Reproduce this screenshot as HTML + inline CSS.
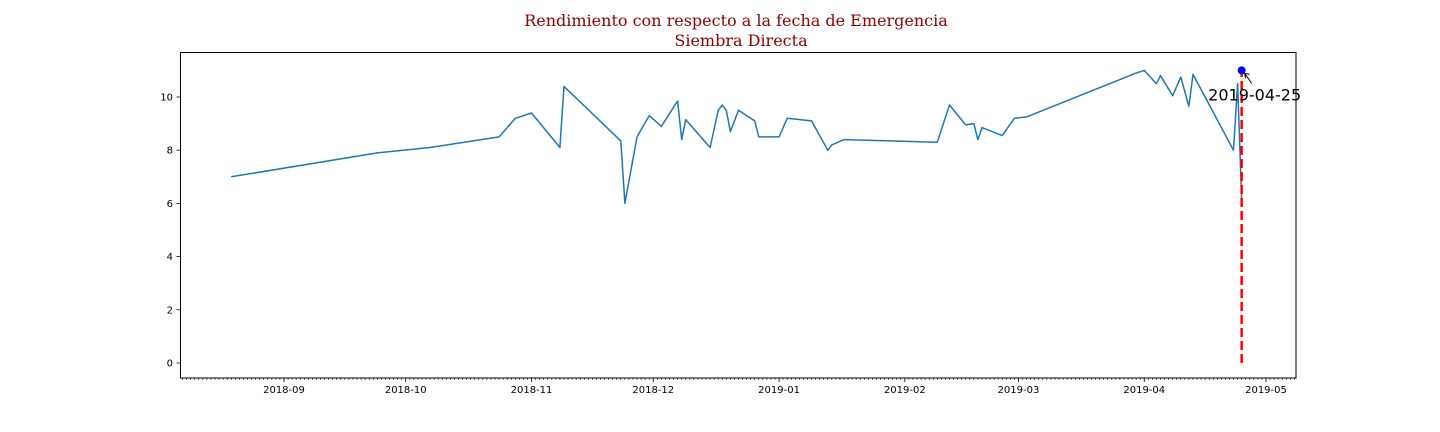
<!DOCTYPE html>
<html><head><meta charset="utf-8"><style>
html,body{margin:0;padding:0;background:#fff;width:1440px;height:432px;overflow:hidden}
svg text{font-family:"DejaVu Sans","Liberation Sans",sans-serif}
</style></head><body>
<svg id="chart" width="1440" height="432" xmlns="http://www.w3.org/2000/svg">
<text x="736" y="26" text-anchor="middle" font-size="16" fill="#8b0000" style="font-family:'DejaVu Serif','Liberation Serif',serif">Rendimiento con respecto a la fecha de Emergencia</text>
<text x="741" y="46" text-anchor="middle" font-size="16" fill="#8b0000" style="font-family:'DejaVu Serif','Liberation Serif',serif">Siembra Directa</text>
<g id="axes"></g>
<g id="marks"></g>
<rect x="180.5" y="52.5" width="1115.5" height="325.5" fill="none" stroke="#000" stroke-width="1"/>
</svg>
<script>
const dates=["2018-08-19","2018-09-24","2018-10-07","2018-10-24","2018-10-28","2018-11-01","2018-11-08","2018-11-09","2018-11-23","2018-11-24","2018-11-27","2018-11-30","2018-12-03","2018-12-07","2018-12-08","2018-12-09","2018-12-15","2018-12-17","2018-12-18","2018-12-19","2018-12-20","2018-12-22","2018-12-26","2018-12-27","2019-01-01","2019-01-03","2019-01-09","2019-01-13","2019-01-14","2019-01-17","2019-02-09","2019-02-12","2019-02-16","2019-02-18","2019-02-19","2019-02-20","2019-02-25","2019-02-28","2019-03-03","2019-03-30","2019-04-01","2019-04-04","2019-04-05","2019-04-08","2019-04-10","2019-04-12","2019-04-13","2019-04-23","2019-04-24","2019-04-25"];
const yields=[7.0,7.9,8.1,8.5,9.2,9.4,8.1,10.4,8.35,6.0,8.5,9.3,8.9,9.85,8.4,9.15,8.1,9.5,9.7,9.5,8.7,9.5,9.1,8.5,8.5,9.2,9.1,8.0,8.2,8.4,8.3,9.7,8.95,9.0,8.4,8.85,8.55,9.2,9.25,10.9,11.0,10.5,10.8,10.05,10.75,9.65,10.85,8.0,10.5,6.1];
const markDate="2019-04-25";
const markValue=11.0;
const yTicks=[0,2,4,6,8,10];
const xTickLabels=["2018-09","2018-10","2018-11","2018-12","2019-01","2019-02","2019-03","2019-04","2019-05"];

const NS="http://www.w3.org/2000/svg";
const day0=Date.UTC(2018,8,1);
function dnum(s){const p=s.split("-").map(Number);return (Date.UTC(p[0],p[1]-1,p[2]||1)-day0)/86400000;}
const X0=284,XPD=(1266-284)/242;
function xs(s){return X0+dnum(s)*XPD;}
function xd(d){return X0+d*XPD;}
function ys(v){return 363-v*26.6;}
const axes=document.getElementById('axes'),marks=document.getElementById('marks');
function mk(tag,attrs,parent){const e=document.createElementNS(NS,tag);for(const k in attrs)e.setAttribute(k,attrs[k]);parent.appendChild(e);return e;}
for(let d=-26;d<=252;d++){const x=xd(d);if(x<181||x>1295)continue;
 const t=mk('line',{x1:x,x2:x,y1:378,y2:380,stroke:'#000','stroke-width':0.6},axes);
 
 }
xTickLabels.forEach(l=>{const x=xs(l);
 const t=mk('line',{x1:x,x2:x,y1:378,y2:382,stroke:'#000','stroke-width':0.8},axes);
 
 
 const tx=mk('text',{x:x,y:393,'text-anchor':'middle','font-size':10},axes);tx.textContent=l;
 
 });
yTicks.forEach(v=>{const y=ys(v);
 const t=mk('line',{x1:176.5,x2:180,y1:y,y2:y,stroke:'#000','stroke-width':0.8},axes);
 
 
 const tx=mk('text',{x:173,y:y+3.5,'text-anchor':'end','font-size':10},axes);tx.textContent=v;
 
 });
const pts=dates.map((d,i)=>xs(d).toFixed(1)+','+ys(yields[i]).toFixed(1)).join(' ');
const line=mk('polyline',{points:pts,fill:'none',stroke:'#1f77b4','stroke-width':1.5,'stroke-linejoin':'round'},marks);


const mx=xs(markDate),my=ys(markValue);
const vl=mk('line',{x1:mx,x2:mx,y1:ys(0),y2:my,stroke:'#ff0000','stroke-width':2.5,'stroke-dasharray':'9,4'},marks);


const dot=mk('circle',{cx:mx,cy:my,r:4,fill:'#0000ff'},marks);


const ar=mk('path',{d:`M${mx+10},${my+13} L${mx+3},${my+3} M${mx+3},${my+3} l1,5 M${mx+3},${my+3} l5,1`,stroke:'#000','stroke-width':1,fill:'none'},marks);


const at=mk('text',{x:mx+13,y:my+30,'text-anchor':'middle','font-size':16},marks);at.textContent=markDate;


</script>
</body></html>
